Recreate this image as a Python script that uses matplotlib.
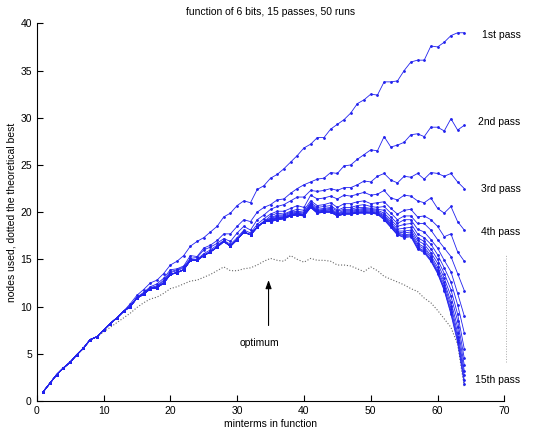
import matplotlib
matplotlib.use("Agg")
import matplotlib.pyplot as plt
import numpy as np

plt.rcParams['font.family'] = ['Liberation Sans', 'DejaVu Sans']

# minterms in function
x = np.arange(1, 65)

# values shared by every pass for x = 1..13
head = [1.0, 1.9, 2.8, 3.5, 4.1, 4.9, 5.6, 6.5, 6.8, 7.5, 8.2, 8.8, 9.5]

# passes 1-4, x = 14..64
pass1_tail = [10.3, 11.2, 11.8, 12.5, 12.8, 13.5, 14.4, 14.8, 15.4, 16.4,
              16.9, 17.3, 17.9, 18.5, 19.5, 19.9, 20.7, 21.2, 21.0, 22.4,
              22.8, 23.6, 24.0, 24.6, 25.3, 26.0, 26.8, 27.2, 27.9, 27.9,
              28.8, 29.3, 29.8, 30.5, 31.5, 31.9, 32.5, 32.4, 33.8, 33.8,
              33.9, 35.0, 35.9, 36.1, 36.1, 37.6, 37.5, 38.0, 38.7, 39.0,
              39.0]
pass2_tail = [10.1, 11.0, 11.5, 12.1, 12.4, 13.0, 13.9, 14.0, 14.3, 15.4,
              15.3, 16.2, 16.5, 17.0, 17.7, 17.7, 18.5, 19.2, 19.0, 20.0,
              20.5, 20.8, 21.3, 21.4, 22.0, 22.5, 22.9, 23.2, 23.5, 23.6,
              24.2, 24.1, 24.9, 25.0, 25.6, 26.1, 26.6, 26.5, 28.0, 26.9,
              27.1, 27.4, 28.2, 28.3, 28.0, 29.0, 29.0, 28.6, 29.9, 28.7,
              29.2]
pass3_tail = [10.1, 10.9, 11.4, 12.0, 12.2, 12.8, 13.7, 13.9, 14.2, 15.1,
              15.2, 16.0, 16.3, 16.7, 17.2, 16.9, 17.8, 18.5, 18.1, 19.2,
              19.7, 20.3, 20.6, 20.8, 21.2, 21.6, 21.6, 22.3, 22.2, 22.3,
              22.5, 22.3, 22.6, 22.6, 22.9, 23.3, 23.2, 23.8, 24.1, 23.4,
              23.1, 23.8, 23.7, 24.1, 23.5, 24.2, 24.1, 23.8, 24.1, 23.2,
              22.5]
pass4_tail = [10.0, 10.9, 11.4, 12.0, 12.1, 12.7, 13.6, 13.8, 14.1, 15.0,
              15.0, 15.6, 16.0, 16.5, 17.0, 16.6, 17.3, 18.1, 17.8, 18.7,
              19.3, 19.8, 20.1, 20.1, 20.4, 20.7, 20.5, 21.8, 21.4, 21.5,
              21.7, 21.4, 21.8, 21.7, 21.9, 22.1, 21.8, 21.9, 22.3, 21.5,
              21.3, 21.8, 21.7, 21.2, 21.0, 21.5, 20.4, 19.9, 20.6, 19.0,
              18.1]

# passes 5-15 overlap for x = 14..34
bundle_mid = [10.0, 10.9, 11.3, 11.9, 12.0, 12.5, 13.4, 13.6, 13.9, 14.9,
              14.9, 15.4, 15.8, 16.3, 16.9, 16.4, 17.1, 17.9, 17.6, 18.4,
              19.0]

# passes 5-15, x = 35..64
pass5_end = [19.6, 19.9, 19.8, 20.1, 20.3, 20.2, 21.2, 20.7, 20.8, 21.0,
             20.5, 20.9, 20.9, 21.1, 21.2, 20.9, 21.0, 21.1, 20.4, 19.8,
             20.2, 20.3, 19.5, 19.6, 19.2, 18.5, 17.4, 17.7, 15.8, 14.8]
pass6_end = [19.4, 19.7, 19.7, 20.0, 20.1, 20.0, 21.0, 20.5, 20.6, 20.7,
             20.2, 20.5, 20.5, 20.7, 20.8, 20.6, 20.5, 20.6, 19.9, 19.2,
             19.6, 19.6, 18.8, 18.8, 18.1, 17.1, 16.2, 15.3, 13.5, 11.7]
pass7_end = [19.3, 19.6, 19.6, 19.9, 20.0, 19.9, 20.9, 20.3, 20.4, 20.5,
             20.1, 20.3, 20.3, 20.5, 20.5, 20.4, 20.3, 20.2, 19.5, 18.8,
             19.2, 19.2, 18.2, 17.9, 17.1, 16.2, 14.9, 13.7, 11.4, 9.0]
pass8_end = [19.2, 19.5, 19.5, 19.8, 19.9, 19.8, 20.8, 20.2, 20.3, 20.4,
             19.9, 20.2, 20.2, 20.3, 20.4, 20.3, 20.2, 19.9, 19.2, 18.5,
             18.7, 18.8, 17.7, 17.3, 16.6, 15.5, 14.1, 12.6, 10.2, 7.2]
pass9_end = [19.2, 19.4, 19.5, 19.7, 19.9, 19.7, 20.7, 20.1, 20.2, 20.3,
             19.8, 20.1, 20.1, 20.2, 20.3, 20.2, 20.1, 19.7, 19.0, 18.2,
             18.3, 18.4, 17.3, 16.9, 16.1, 15.0, 13.5, 11.8, 9.2, 5.5]
pass10_end = [19.1, 19.4, 19.4, 19.7, 19.8, 19.7, 20.7, 20.1, 20.2, 20.2,
              19.8, 20.0, 20.0, 20.1, 20.2, 20.1, 20.0, 19.6, 18.8, 18.0,
              18.0, 18.1, 17.0, 16.6, 15.7, 14.6, 13.0, 11.1, 8.5, 4.5]
pass11_end = [19.1, 19.3, 19.4, 19.7, 19.8, 19.7, 20.6, 20.0, 20.1, 20.1,
              19.7, 19.9, 19.9, 20.0, 20.1, 20.0, 19.9, 19.5, 18.7, 17.9,
              17.8, 17.9, 16.7, 16.3, 15.4, 14.2, 12.6, 10.5, 7.8, 3.8]
pass12_end = [19.1, 19.3, 19.4, 19.6, 19.8, 19.6, 20.6, 20.0, 20.1, 20.1,
              19.7, 19.9, 19.9, 20.0, 20.0, 20.0, 19.9, 19.4, 18.6, 17.8,
              17.6, 17.7, 16.5, 16.1, 15.2, 13.9, 12.3, 10.1, 7.2, 3.2]
pass13_end = [19.0, 19.2, 19.3, 19.6, 19.7, 19.6, 20.5, 19.9, 20.0, 20.0,
              19.6, 19.8, 19.8, 19.9, 20.0, 19.9, 19.8, 19.3, 18.5, 17.7,
              17.5, 17.6, 16.3, 15.9, 15.0, 13.7, 12.0, 9.7, 6.8, 2.7]
pass14_end = [19.0, 19.2, 19.3, 19.6, 19.7, 19.6, 20.5, 19.9, 20.0, 20.0,
              19.6, 19.8, 19.8, 19.9, 19.9, 19.9, 19.8, 19.2, 18.4, 17.6,
              17.4, 17.5, 16.2, 15.8, 14.9, 13.6, 11.8, 9.4, 6.5, 2.2]
pass15_end = [19.0, 19.2, 19.3, 19.6, 19.7, 19.6, 20.5, 19.9, 20.0, 20.0,
              19.6, 19.8, 19.8, 19.9, 19.9, 19.9, 19.8, 19.2, 18.4, 17.6,
              17.3, 17.4, 16.1, 15.7, 14.8, 13.5, 11.7, 9.2, 6.2, 1.8]

# theoretical best (dotted)
optimum = [1.0, 1.9, 2.8, 3.5, 4.1, 4.9, 5.6, 6.4, 6.8, 7.3,
           7.8, 8.3, 8.8, 9.3, 9.9, 10.4, 10.8, 11.0, 11.4, 11.9,
           12.1, 12.4, 12.7, 12.8, 13.1, 13.4, 13.8, 14.2, 13.8, 13.8,
           14.0, 14.1, 14.4, 14.8, 15.1, 14.9, 14.8, 15.4, 15.0, 14.7,
           15.1, 14.9, 14.9, 14.8, 14.4, 14.4, 14.3, 14.0, 13.7, 14.2,
           13.8, 13.2, 12.9, 12.6, 12.3, 11.9, 11.6, 10.9, 10.4, 9.6,
           8.7, 7.8, 6.0, 1.5]

# stray dotted segment at the right edge
edge_x = [70.2, 70.2]
edge_y = [4.1, 15.5]

pass_labels = ['1st pass', '2nd pass', '3rd pass', '4th pass', '15th pass']
label_y = [38.8, 29.5, 22.5, 17.9, 2.2]

passes = [head + pass1_tail, head + pass2_tail, head + pass3_tail, head + pass4_tail]
for end in [pass5_end, pass6_end, pass7_end, pass8_end, pass9_end, pass10_end,
            pass11_end, pass12_end, pass13_end, pass14_end, pass15_end]:
    passes.append(head + bundle_mid + end)

fig = plt.figure(figsize=(5.36, 4.32), dpi=100)
ax = fig.add_axes([0.0685, 0.0718, 0.8725, 0.8742])

ax.plot(x, optimum, linestyle=':', color='#666666', lw=0.8)
ax.plot(edge_x, edge_y, linestyle=':', color='#aaaaaa', lw=0.7, clip_on=False)
for p in passes:
    ax.plot(x, p, color='#2222ee', lw=0.6, marker='.', markersize=2)

for lab, yy in zip(pass_labels, label_y):
    ax.text(72.4, yy, lab, ha='right', va='center', fontsize=7.5, clip_on=False)

ax.annotate('', xy=(34.7, 13.1), xytext=(34.7, 7.7),
            arrowprops=dict(arrowstyle='-|>,head_length=0.5,head_width=0.18',
                            color='black', lw=0.8))
ax.text(33.4, 6.1, 'optimum', ha='center', va='center', fontsize=7.5)

ax.set_xlim(0, 70)
ax.set_ylim(0, 40)
ax.set_xticks(np.arange(0, 71, 10))
ax.set_yticks(np.arange(0, 41, 5))
ax.spines['top'].set_visible(False)
ax.spines['right'].set_visible(False)
ax.tick_params(direction='in', length=4, width=0.8, labelsize=7.5)
ax.set_xlabel('minterms in function', fontsize=7.5, labelpad=2)
ax.set_ylabel('nodes used, dotted the theoretical best', fontsize=7.5, labelpad=3)
ax.set_title('function of 6 bits, 15 passes, 50 runs', fontsize=7.5, pad=6)

fig.savefig('out.png', dpi=100)
